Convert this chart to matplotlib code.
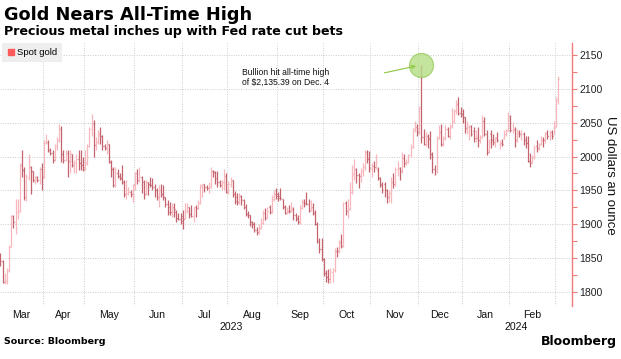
import numpy as np
import pandas as pd
import matplotlib
matplotlib.use("Agg")
import matplotlib.pyplot as plt
from matplotlib.lines import Line2D
from matplotlib.ticker import MultipleLocator, FixedLocator, NullFormatter

# Trading days (spot gold, weekdays without Good Friday / Christmas / New Year)
holidays = ["2023-04-07", "2023-12-25", "2024-01-01"]
dates = pd.bdate_range("2023-03-06", "2024-03-04")
dates = dates[~dates.isin(pd.to_datetime(holidays))]

opens = [
    1855, 1846, 1815, 1817, 1832, 1867, 1912, 1903, 1918, 1920,
    1988, 1980, 1940, 1970, 1985, 1978, 1965, 1970, 1966, 1982,
    1970, 2020, 2022, 2010, 2005, 1995, 2016, 2025, 2040, 2004,
    1995, 2005, 1993, 2004, 1987, 1990, 1997, 1990, 1988, 1982,
    1990, 2016, 2040, 2048, 2017, 2022, 2034, 2030, 2015, 2012,
    2018, 1992, 1982, 1958, 1975, 1972, 1968, 1962, 1945, 1946,
    1948, 1944, 1958, 1975, 1965, 1970, 1962, 1945, 1962, 1960,
    1958, 1955, 1950, 1940, 1950, 1945, 1940, 1930, 1926, 1918,
    1925, 1918, 1910, 1908, 1912, 1910, 1920, 1925, 1915, 1912,
    1925, 1924, 1932, 1957, 1959, 1955, 1954, 1955, 1979, 1977,
    1969, 1962, 1958, 1963, 1972, 1948, 1959, 1965, 1944, 1940,
    1933, 1942, 1936, 1925, 1915, 1913, 1903, 1901, 1891, 1889,
    1895, 1902, 1916, 1910, 1926, 1918, 1938, 1945, 1944, 1942,
    1937, 1926, 1917, 1920, 1919, 1922, 1913, 1910, 1903, 1924,
    1933, 1931, 1930, 1922, 1925, 1916, 1901, 1875, 1864, 1849,
    1828, 1822, 1820, 1830, 1833, 1861, 1860, 1874, 1868, 1932,
    1919, 1923, 1947, 1974, 1981, 1973, 1971, 1979, 1985, 2006,
    1996, 1982, 1986, 1985, 1980, 1968, 1960, 1960, 1950, 1940,
    1946, 1963, 1959, 1981, 1983, 1978, 1998, 1990, 1992, 2002,
    2014, 2041, 2044, 2036, 2072, 2029, 2019, 2030, 2028, 2004,
    1982, 1980, 2027, 2036, 2019, 2027, 2040, 2031, 2045, 2053,
    2067, 2077, 2065, 2063, 2058, 2042, 2043, 2045, 2038, 2028,
    2028, 2024, 2029, 2052, 2033, 2010, 2034, 2025, 2021, 2028,
    2018, 2020, 2028, 2033, 2039, 2054, 2039, 2040, 2024, 2035,
    2034, 2034, 2024, 2020, 1994, 1992, 2000, 2016, 2012, 2018,
    2025, 2024, 2035, 2031, 2036, 2034, 2044, 2083,
]
highs = [
    1857, 1848, 1828, 1836, 1870, 1914, 1914, 1938, 1938, 1990,
    2009, 1985, 1974, 2004, 1986, 1978, 1972, 1971, 1985, 1990,
    2025, 2034, 2024, 2012, 2009, 2019, 2029, 2048, 2045, 2009,
    2009, 2009, 2009, 2004, 1995, 2004, 2009, 2009, 1999, 2009,
    2019, 2044, 2063, 2054, 2029, 2039, 2044, 2032, 2019, 2024,
    2019, 1995, 1985, 1985, 1982, 1975, 1987, 1965, 1965, 1955,
    1950, 1960, 1977, 1982, 1985, 1972, 1965, 1965, 1963, 1970,
    1968, 1960, 1953, 1958, 1960, 1958, 1941, 1936, 1933, 1931,
    1931, 1921, 1916, 1916, 1921, 1931, 1931, 1926, 1928, 1926,
    1928, 1936, 1960, 1960, 1960, 1958, 1963, 1985, 1980, 1978,
    1978, 1965, 1965, 1982, 1975, 1964, 1970, 1966, 1949, 1946,
    1946, 1943, 1937, 1930, 1920, 1914, 1905, 1903, 1896, 1900,
    1910, 1921, 1924, 1925, 1929, 1943, 1950, 1953, 1948, 1953,
    1938, 1928, 1925, 1929, 1933, 1925, 1916, 1914, 1928, 1937,
    1938, 1948, 1938, 1936, 1931, 1921, 1903, 1880, 1880, 1851,
    1832, 1834, 1836, 1836, 1865, 1867, 1877, 1885, 1933, 1934,
    1937, 1962, 1987, 1997, 1983, 1975, 1983, 1990, 2009, 2009,
    2008, 1991, 1994, 2004, 1984, 1970, 1963, 1963, 1952, 1950,
    1970, 1975, 1985, 1993, 1985, 2007, 2004, 1996, 2004, 2018,
    2042, 2052, 2048, 2075, 2135.39, 2041, 2036, 2034, 2038, 2006,
    1988, 2030, 2047, 2048, 2030, 2046, 2044, 2048, 2071, 2070,
    2083, 2088, 2073, 2070, 2058, 2053, 2046, 2046, 2044, 2039,
    2044, 2032, 2062, 2058, 2039, 2026, 2039, 2034, 2029, 2036,
    2024, 2026, 2039, 2041, 2066, 2061, 2051, 2044, 2041, 2039,
    2039, 2036, 2031, 2031, 2005, 2003, 2017, 2024, 2020, 2031,
    2029, 2036, 2039, 2039, 2039, 2052, 2088, 2119,
]
lows = [
    1838, 1813, 1812, 1812, 1830, 1866, 1894, 1886, 1908, 1918,
    1970, 1936, 1935, 1966, 1945, 1963, 1960, 1963, 1960, 1950,
    1968, 2018, 2006, 2002, 1990, 1994, 2009, 2022, 1992, 1990,
    1993, 1970, 1975, 1985, 1975, 1975, 1980, 1980, 1978, 1980,
    1988, 2014, 2030, 2000, 2009, 2019, 2019, 2009, 2009, 2004,
    1990, 1970, 1955, 1955, 1968, 1965, 1960, 1941, 1938, 1943,
    1941, 1933, 1950, 1960, 1962, 1946, 1938, 1943, 1943, 1955,
    1950, 1941, 1936, 1926, 1941, 1936, 1926, 1914, 1914, 1911,
    1911, 1904, 1906, 1901, 1893, 1908, 1916, 1909, 1911, 1904,
    1911, 1922, 1930, 1941, 1948, 1950, 1946, 1953, 1970, 1960,
    1955, 1955, 1950, 1950, 1946, 1945, 1955, 1940, 1930, 1928,
    1930, 1928, 1922, 1912, 1910, 1898, 1894, 1889, 1884, 1886,
    1893, 1900, 1906, 1909, 1915, 1917, 1935, 1938, 1934, 1936,
    1922, 1915, 1915, 1916, 1918, 1906, 1905, 1901, 1901, 1922,
    1926, 1928, 1918, 1919, 1914, 1899, 1872, 1857, 1846, 1823,
    1815, 1813, 1813, 1815, 1830, 1852, 1858, 1865, 1867, 1913,
    1909, 1921, 1945, 1965, 1961, 1954, 1962, 1971, 1980, 1990,
    1977, 1970, 1977, 1982, 1965, 1955, 1946, 1940, 1931, 1933,
    1931, 1954, 1956, 1972, 1965, 1975, 1985, 1987, 1990, 2000,
    2013, 2036, 2031, 2034, 2020, 2017, 2016, 2012, 1996, 1975,
    1973, 1976, 2026, 2015, 2016, 2024, 2029, 2026, 2042, 2050,
    2063, 2062, 2058, 2050, 2035, 2034, 2024, 2030, 2022, 2021,
    2014, 2020, 2028, 2030, 2002, 2005, 2012, 2017, 2014, 2022,
    2011, 2016, 2026, 2031, 2037, 2036, 2035, 2014, 2022, 2029,
    2024, 2017, 2012, 1992, 1985, 1990, 1997, 2006, 2009, 2017,
    2014, 2020, 2026, 2024, 2026, 2033, 2043, 2077,
]
closes = [
    1846, 1815, 1817, 1832, 1867, 1912, 1903, 1918, 1920, 1988,
    1980, 1940, 1970, 1993, 1978, 1965, 1970, 1966, 1982, 1970,
    2020, 2022, 2010, 2005, 1995, 2016, 2025, 2040, 2004, 1995,
    2005, 1993, 2004, 1987, 1990, 1997, 1990, 1988, 1982, 1990,
    2016, 2040, 2048, 2017, 2022, 2034, 2030, 2015, 2012, 2018,
    1992, 1982, 1958, 1975, 1972, 1968, 1962, 1945, 1946, 1948,
    1944, 1958, 1975, 1965, 1970, 1962, 1945, 1962, 1960, 1958,
    1955, 1950, 1940, 1950, 1945, 1940, 1930, 1918, 1918, 1925,
    1922, 1910, 1908, 1905, 1908, 1920, 1925, 1915, 1912, 1925,
    1924, 1932, 1957, 1959, 1955, 1954, 1955, 1979, 1977, 1969,
    1962, 1958, 1963, 1972, 1948, 1959, 1965, 1944, 1934, 1933,
    1943, 1936, 1925, 1915, 1913, 1903, 1901, 1891, 1889, 1895,
    1902, 1916, 1910, 1920, 1918, 1938, 1945, 1942, 1939, 1939,
    1926, 1917, 1920, 1919, 1922, 1913, 1908, 1903, 1924, 1933,
    1931, 1930, 1920, 1925, 1916, 1901, 1875, 1864, 1849, 1828,
    1822, 1820, 1830, 1833, 1861, 1860, 1874, 1868, 1932, 1919,
    1923, 1947, 1974, 1981, 1973, 1971, 1979, 1985, 2006, 1996,
    1983, 1986, 1985, 1992, 1968, 1958, 1950, 1950, 1940, 1946,
    1963, 1959, 1981, 1983, 1978, 1998, 1990, 1992, 2002, 2014,
    2041, 2044, 2036, 2072, 2029, 2019, 2025, 2026, 2004, 1982,
    1980, 2027, 2036, 2019, 2027, 2040, 2031, 2045, 2053, 2067,
    2077, 2065, 2063, 2058, 2042, 2043, 2045, 2034, 2028, 2030,
    2024, 2029, 2050, 2033, 2006, 2022, 2025, 2021, 2028, 2024,
    2020, 2018, 2033, 2037, 2054, 2039, 2040, 2024, 2035, 2034,
    2034, 2024, 2020, 1994, 1990, 2000, 2013, 2012, 2018, 2025,
    2024, 2035, 2031, 2032, 2030, 2044, 2083, 2114,
]

up_color = "#f8b6bd"
down_color = "#c4636d"
axis_red = "#f27a7a"
grid_color = "#cccccc"

o = np.array(opens, dtype=float)
h = np.array(highs, dtype=float)
l = np.array(lows, dtype=float)
c = np.array(closes, dtype=float)
x = np.arange(len(dates))
cols = np.where(c >= o, up_color, down_color)

fig = plt.figure(figsize=(6.21, 3.59), dpi=100)
ax = fig.add_axes([0.0, 0.1476, 0.9206, 0.7326])

# OHLC bars
ax.vlines(x, l, h, colors=cols, lw=0.9)
ax.hlines(o, x - 0.45, x, colors=cols, lw=0.9)
ax.hlines(c, x, x + 0.45, colors=cols, lw=0.9)

ax.set_xlim(-0.2, 263.2)
ax.set_ylim(1779.4, 2167.6)

# month boundaries and labels
month_id = dates.year * 12 + dates.month
starts = np.flatnonzero(np.diff(month_id)) + 1
bounds = starts - 0.5
edges = np.concatenate([[ax.get_xlim()[0]], bounds])
centers = (edges[:-1] + edges[1:]) / 2
labels = [dates[0].strftime("%b")] + [dates[s].strftime("%b") for s in starts[:-1]]

ax.xaxis.set_major_locator(FixedLocator(bounds))
ax.xaxis.set_major_formatter(NullFormatter())
ax.xaxis.set_minor_locator(FixedLocator(centers))
ax.set_xticklabels(labels, minor=True)
ax.tick_params(axis="x", which="both", length=0)
ax.tick_params(axis="x", which="minor", pad=3, labelsize=7.6, labelcolor="#111111")
for t in ax.get_xticklabels(minor=True):
    t.set_family("Liberation Sans")

jan = bounds[[dates[s].month == 1 for s in starts]][0]
xl = ax.get_xlim()
ax.text((xl[0] + jan) / 2, -0.08, "2023", transform=ax.get_xaxis_transform(),
        ha="center", va="center", fontsize=7.6, family="Liberation Sans", color="#111111")
ax.text((jan + xl[1]) / 2, -0.08, "2024", transform=ax.get_xaxis_transform(),
        ha="center", va="center", fontsize=7.6, family="Liberation Sans", color="#111111")

# y axis on the right
ax.yaxis.tick_right()
ax.yaxis.set_major_locator(MultipleLocator(50))
ax.yaxis.set_minor_locator(MultipleLocator(25))
ax.tick_params(axis="y", which="both", colors=axis_red, length=3.5, width=0.8,
               labelcolor="#222222", labelsize=7.6, pad=2)
for t in ax.get_yticklabels():
    t.set_family("Liberation Sans")

for s in ["top", "left", "bottom"]:
    ax.spines[s].set_visible(False)
ax.spines["right"].set_color(axis_red)
ax.spines["right"].set_linewidth(1.0)

ax.grid(True, which="major", color=grid_color, linestyle=(0, (1, 1.5)), lw=0.7)
ax.set_axisbelow(True)

# legend
handle = Line2D([], [], marker="s", color="#ff5a5a", linestyle="none",
                markersize=5, label="Spot gold")
leg = ax.legend(handles=[handle], loc="upper left", bbox_to_anchor=(0.0035, 1.0),
                frameon=True, facecolor="#eeeeee", edgecolor="none", fancybox=False,
                framealpha=1, handlelength=0.7, handletextpad=0.3, borderpad=0.55,
                borderaxespad=0, prop={"family": "Liberation Sans", "size": 6.8})

# all-time high callout
peak = int(np.argmax(h))
ax.scatter([x[peak]], [h[peak]], s=300, facecolor="#b5de84", edgecolor="#95c957",
           lw=0.8, alpha=0.8, zorder=4)
ax.annotate("", xy=(x[peak], h[peak]), xytext=(-37, -8), textcoords="offset pixels",
            arrowprops=dict(arrowstyle="->", color="#8cc63f", lw=0.8,
                            shrinkA=0, shrinkB=4, mutation_scale=6), zorder=5)
ax.text(0.4228, 0.905, "Bullion hit all-time high\nof \\$2,135.39 on Dec. 4",
        transform=ax.transAxes, ha="left", va="top", fontsize=6.2,
        family="Liberation Sans", linespacing=1.15, color="#111111")

# titles and notes
fig.text(4 / 621, 1 - 20 / 359, "Gold Nears All-Time High", fontsize=12.8,
         fontweight="bold", family="DejaVu Sans", va="baseline", ha="left")
fig.text(4 / 621, 1 - 35.5 / 359, "Precious metal inches up with Fed rate cut bets",
         fontsize=9.1, fontweight="bold", family="DejaVu Sans", va="baseline", ha="left")
fig.text(610 / 621, 1 - 175 / 359, "US dollars an ounce", rotation=270, ha="center",
         va="center", fontsize=9.5, family="Liberation Sans", color="#111111")
fig.text(4 / 621, 1 - 341.5 / 359, "Source: Bloomberg", fontsize=6.8,
         fontweight="bold", family="DejaVu Sans", va="center", ha="left")
fig.text(617 / 621, 1 - 342 / 359, "Bloomberg", fontsize=9, fontweight="bold",
         family="DejaVu Sans", va="center", ha="right")

fig.savefig("out.png", dpi=100)
